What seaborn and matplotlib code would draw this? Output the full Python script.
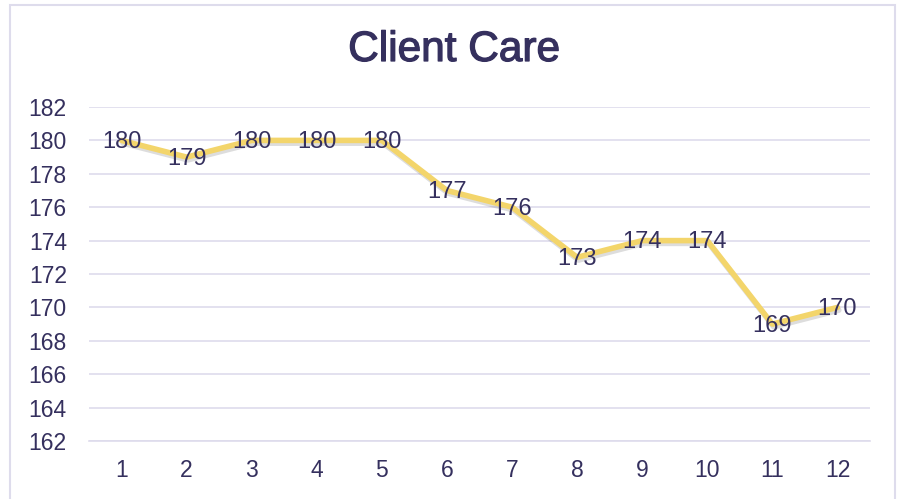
import numpy as np
import pandas as pd
import matplotlib.pyplot as plt
import matplotlib.patheffects as pe
from matplotlib.patches import Rectangle
import seaborn as sns

months = [1, 2, 3, 4, 5, 6, 7, 8, 9, 10, 11, 12]
values = [180, 179, 180, 180, 180, 177, 176, 173, 174, 174, 169, 170]
y_ticks = [162, 164, 166, 168, 170, 172, 174, 176, 178, 180, 182]

TEXT = "#35305e"
GRID = "#dedcec"
LINE = "#f3d56b"

sns.set_theme(style="white")
plt.rcParams["font.family"] = ["Liberation Sans", "DejaVu Sans"]

df = pd.DataFrame({"pos": np.arange(len(months)) + 0.5, "value": values})

fig = plt.figure(figsize=(8.99, 4.99), dpi=100)
fig.patches.append(Rectangle((10 / 899, -0.05), 885 / 899, 1.0 - 5 / 499 + 0.05,
                             transform=fig.transFigure, fill=False,
                             edgecolor=GRID, linewidth=1.5))
ax = fig.add_axes([89 / 899, 1 - 441 / 499, 781 / 899, 334 / 499])

sns.lineplot(data=df, x="pos", y="value", ax=ax, color=LINE, linewidth=4,
             path_effects=[pe.SimpleLineShadow(offset=(1, -2), alpha=0.2,
                                               shadow_color="#555555"),
                           pe.Normal()])

for x, v in zip(df["pos"], df["value"]):
    ax.text(x, v - 0.1, str(v), ha="center", va="center", fontsize=17, color=TEXT)

ax.set_xlim(0, 12)
ax.set_ylim(162, 182)
ax.set_yticks(y_ticks)
ax.set_yticklabels([str(t) for t in y_ticks], fontsize=16.5, color=TEXT)
ax.set_xticks(np.arange(0, 13))
ax.set_xticklabels([])
ax.set_xticks(df["pos"], minor=True)
ax.set_xticklabels([str(m) for m in months], minor=True, fontsize=16.5, color=TEXT)
ax.tick_params(axis="x", which="major", length=6, color=GRID, width=1.2)
ax.tick_params(axis="x", which="minor", length=0, pad=13)
ax.tick_params(axis="y", length=0, pad=16)
ax.grid(axis="y", color=GRID, linewidth=1.2)
ax.set_axisbelow(True)
for s in ["top", "right", "left"]:
    ax.spines[s].set_visible(False)
ax.spines["bottom"].set_color(GRID)
ax.spines["bottom"].set_linewidth(1.2)
ax.set_xlabel("")
ax.set_ylabel("")

fig.text(454 / 899, 1 - 50 / 499, "Client Care", ha="center", va="center",
         fontsize=30.5, color=TEXT,
         path_effects=[pe.withStroke(linewidth=0.9, foreground=TEXT)])

fig.savefig("out.png", dpi=100)
